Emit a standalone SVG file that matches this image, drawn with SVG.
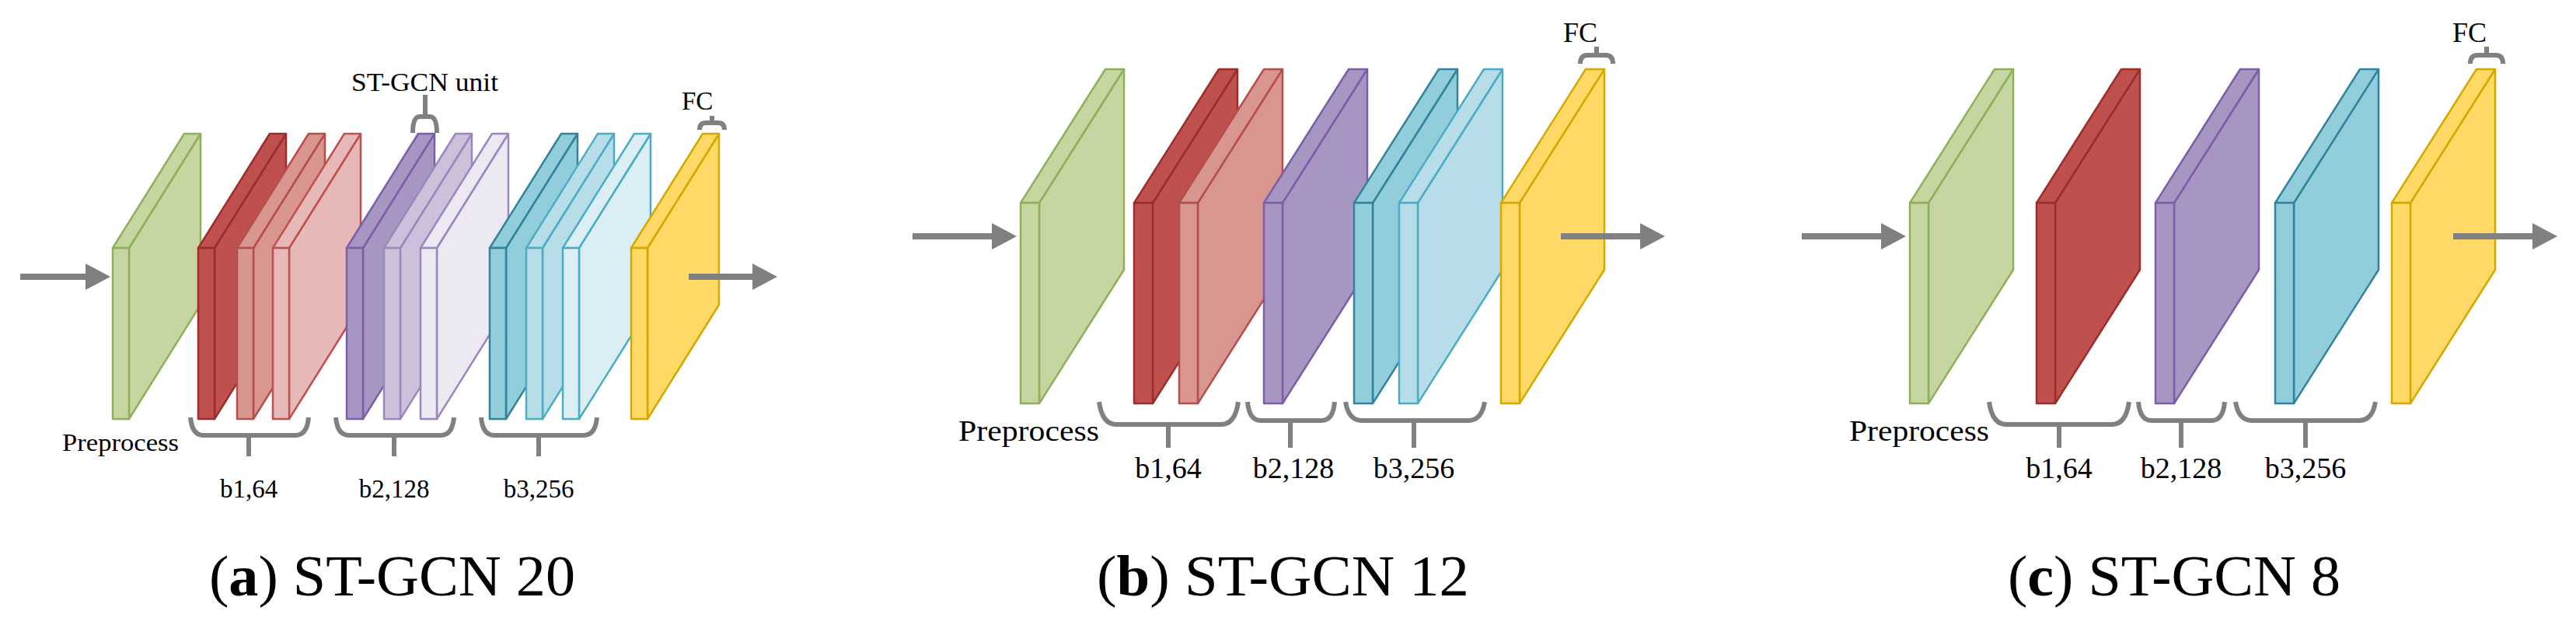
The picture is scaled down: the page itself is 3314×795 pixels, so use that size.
<svg xmlns="http://www.w3.org/2000/svg" xmlns:xlink="http://www.w3.org/1999/xlink" width="3314" height="795" viewBox="0 0 3314 795">
<style>
.g{fill:#C5D6A0;stroke:#8EB05A}.r1{fill:#C0504D;stroke:#9B2D2A}.r2{fill:#D9958F;stroke:#B4504B}.r3{fill:#E6B9B8;stroke:#C0504D}
.p1{fill:#A896C2;stroke:#7B5EA7}.p2{fill:#CDC0DB;stroke:#9C86BE}.p3{fill:#EDE9F2;stroke:#9C86BE}
.b1{fill:#92CDDC;stroke:#31849B}.b2{fill:#B7DEE8;stroke:#4BACC6}.b3{fill:#DAEEF3;stroke:#4BACC6}.y{fill:#FFD966;stroke:#D4A800}
use{stroke-width:2.5;stroke-linejoin:round}
.br{fill:none;stroke:#808080;stroke-width:6}
.ar{stroke:#808080;stroke-width:8;fill:none}
.t{font-family:"Liberation Serif","Times New Roman",serif;fill:#000}
.cap{font-family:"Liberation Serif","Times New Roman",serif;font-size:74px;fill:#000}
</style>
<defs>
<g id="sa"><path d="M21,0 L113,-147 L113,73 L21,220 Z"/><path d="M0,0 L21,0 L113,-147 L92,-147 Z"/><rect x="0" y="0" width="21" height="220"/></g>
<g id="sb"><path d="M24,0 L133,-172 L133,86 L24,258 Z"/><path d="M0,0 L24,0 L133,-172 L109,-172 Z"/><rect x="0" y="0" width="24" height="258"/></g>
<marker id="ah" markerUnits="userSpaceOnUse" markerWidth="34" markerHeight="34" refX="2" refY="17" orient="auto" viewBox="0 0 34 34"><path d="M0,0 L32,17 L0,34 Z" fill="#808080"/></marker>
</defs>
<g id="panel-a">
<g id="a-pre"><use href="#sa" class="g" x="145" y="319"/></g>
<g id="a-b1"><use href="#sa" class="r1" x="255" y="319"/><use href="#sa" class="r2" x="305" y="319"/><use href="#sa" class="r3" x="351" y="319"/></g>
<g id="a-b2"><use href="#sa" class="p1" x="446" y="319"/><use href="#sa" class="p2" x="494" y="319"/><use href="#sa" class="p3" x="541" y="319"/></g>
<g id="a-b3"><use href="#sa" class="b1" x="630" y="319"/><use href="#sa" class="b2" x="677" y="319"/><use href="#sa" class="b3" x="724" y="319"/></g>
<g id="a-fc"><use href="#sa" class="y" x="812" y="319"/></g>
</g>
<g id="panel-b">
<g id="b-pre"><use href="#sb" class="g" x="1313" y="261"/></g>
<g id="b-b1"><use href="#sb" class="r1" x="1459" y="261"/><use href="#sb" class="r2" x="1517" y="261"/></g>
<g id="b-b2"><use href="#sb" class="p1" x="1626" y="261"/></g>
<g id="b-b3"><use href="#sb" class="b1" x="1742" y="261"/><use href="#sb" class="b2" x="1800" y="261"/></g>
<g id="b-fc"><use href="#sb" class="y" x="1931" y="261"/></g>
</g>
<g id="panel-c">
<g id="c-pre"><use href="#sb" class="g" x="2457" y="261"/></g>
<g id="c-b1"><use href="#sb" class="r1" x="2620" y="261"/></g>
<g id="c-b2"><use href="#sb" class="p1" x="2773" y="261"/></g>
<g id="c-b3"><use href="#sb" class="b1" x="2927" y="261"/></g>
<g id="c-fc"><use href="#sb" class="y" x="3077" y="261"/></g>
</g>
<g id="connectors">
<path class="ar" d="M26,356 H112" marker-end="url(#ah)"/>
<path class="ar" d="M886,356 H970" marker-end="url(#ah)"/>
<path class="ar" d="M1174,304 H1278" marker-end="url(#ah)"/>
<path class="ar" d="M2008,304 H2112" marker-end="url(#ah)"/>
<path class="ar" d="M2318,304 H2422" marker-end="url(#ah)"/>
<path class="ar" d="M3156,304 H3260" marker-end="url(#ah)"/>
</g>
<g id="braces">
<path class="br" d="M245,537 Q247,560 262,560 H380 Q395,560 397,537 M320,560 V587"/>
<path class="br" d="M432,537 Q434,560 449,560 H567 Q582,560 584,537 M507,560 V587"/>
<path class="br" d="M619,537 Q621,560 636,560 H751 Q766,560 768,537 M693,560 V587"/>
<path class="br" d="M531,171 Q531,150 540,150 H553 Q562,150 562,171 M547,150 V122"/>
<path class="br" d="M900,167 Q900,158 908,158 H924 Q932,158 932,167 M916,158 V149"/>
<path class="br" d="M1414,517 Q1418,546 1436,546 H1571 Q1589,546 1593,517 M1503,546 V576"/>
<path class="br" d="M1605,517 Q1607,541 1622,541 H1700 Q1715,541 1717,517 M1660,541 V576"/>
<path class="br" d="M1731,517 Q1735,541 1752,541 H1889 Q1906,541 1910,517 M1819,541 V576"/>
<path class="br" d="M2033,82 Q2033,71 2042,71 H2066 Q2075,71 2075,82 M2054,71 V60"/>
<path class="br" d="M2559,517 Q2563,546 2581,546 H2717 Q2735,546 2739,517 M2649,546 V576"/>
<path class="br" d="M2751,517 Q2753,541 2768,541 H2845 Q2860,541 2862,517 M2806,541 V576"/>
<path class="br" d="M2876,517 Q2880,541 2897,541 H3035 Q3052,541 3056,517 M2966,541 V576"/>
<path class="br" d="M3178,82 Q3178,71 3187,71 H3211 Q3220,71 3220,82 M3199,71 V60"/>
</g>
<g id="labels">
<text class="t" x="80" y="580" font-size="32" textLength="150" lengthAdjust="spacingAndGlyphs">Preprocess</text>
<text class="t" x="320" y="640" font-size="33" text-anchor="middle">b1,64</text>
<text class="t" x="507" y="640" font-size="33" text-anchor="middle">b2,128</text>
<text class="t" x="693" y="640" font-size="33" text-anchor="middle">b3,256</text>
<text class="t" x="452" y="117" font-size="33" textLength="189" lengthAdjust="spacingAndGlyphs">ST-GCN unit</text>
<text class="t" x="877" y="141" font-size="33">FC</text>
<text class="t" x="1233" y="567" font-size="38" textLength="181" lengthAdjust="spacingAndGlyphs">Preprocess</text>
<text class="t" x="1503" y="615" font-size="38" text-anchor="middle">b1,64</text>
<text class="t" x="1664" y="615" font-size="38" text-anchor="middle">b2,128</text>
<text class="t" x="1819" y="615" font-size="38" text-anchor="middle">b3,256</text>
<text class="t" x="2011" y="54" font-size="36">FC</text>
<text class="t" x="2379" y="567" font-size="38" textLength="180" lengthAdjust="spacingAndGlyphs">Preprocess</text>
<text class="t" x="2649" y="615" font-size="38" text-anchor="middle">b1,64</text>
<text class="t" x="2806" y="615" font-size="38" text-anchor="middle">b2,128</text>
<text class="t" x="2966" y="615" font-size="38" text-anchor="middle">b3,256</text>
<text class="t" x="3155" y="54" font-size="36">FC</text>
<text class="cap" x="269" y="766" textLength="471" lengthAdjust="spacingAndGlyphs">(<tspan font-weight="bold">a</tspan>) ST-GCN 20</text>
<text class="cap" x="1411" y="766" textLength="479" lengthAdjust="spacingAndGlyphs">(<tspan font-weight="bold">b</tspan>) ST-GCN 12</text>
<text class="cap" x="2583" y="766" textLength="428" lengthAdjust="spacingAndGlyphs">(<tspan font-weight="bold">c</tspan>) ST-GCN 8</text>
</g>
</svg>
